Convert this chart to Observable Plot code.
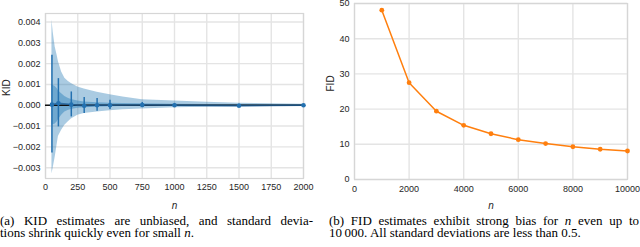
<!DOCTYPE html>
<html>
<head>
<meta charset="utf-8">
<script src="https://cdn.jsdelivr.net/npm/d3@7"></script>
<script src="https://cdn.jsdelivr.net/npm/@observablehq/plot@0.6"></script>
<style>
  html, body { margin: 0; padding: 0; background: #fff; }
  #wrap { position: relative; width: 640px; height: 247px; overflow: hidden; }
  #plots { display: flex; flex-direction: row; }
  #plots > div { width: 320px; height: 212px; }
  .cap { position: absolute; font-family: "Liberation Serif", "Times New Roman", serif; font-size: 13px; line-height: 12px; color: #000; }
  .cap div { white-space: nowrap; height: 12px; }
  .cap .j { text-align: justify; text-align-last: justify; white-space: normal; }
  .cap i { font-style: italic; }
</style>
</head>
<body>
<div id="wrap">
  <div id="plots"><div id="left"></div><div id="right"></div></div>
  <div class="cap" style="left:0px; top:215px; width:313px;">
    <div class="j">(a) KID estimates are unbiased, and standard devia-</div>
    <div>tions shrink quickly even for small <i>n</i>.</div>
  </div>
  <div class="cap" style="left:329px; top:215px; width:310px;">
    <div class="j">(b) FID estimates exhibit strong bias for <i>n</i> even up to</div>
    <div>10&#8201;000. All standard deviations are less than 0.5.</div>
  </div>
</div>
<script>
// ---- KID (left panel) ----
const kidN    = [50, 100, 200, 300, 400, 500, 750, 1000, 1500, 2000];
const kidMean = [0.00003, 0.0001, 0.00003, -0.00002, 0.0, 0.0, 0.00001, 0.0, -0.00002, 0.0];
const kidLo   = [-0.00229, -0.00104, -0.00056, -0.0004, -0.00029, -0.0002, -0.00011, -0.00008, -0.00005, -0.00004];
const kidHi   = [0.0024, 0.00128, 0.00064, 0.00037, 0.00032, 0.00024, 0.00013, 0.00009, 0.00005, 0.00004];

const bandN   = [50, 60, 75, 90, 100, 125, 150, 175, 200, 250, 300, 400, 500, 600, 750, 1000, 1250, 1500, 1750, 2000];
const outerHi = [0.0041, 0.0035, 0.0028, 0.0024, 0.0021, 0.0016, 0.0013, 0.00115, 0.00105, 0.00088, 0.00078, 0.00062, 0.0005, 0.0004, 0.00027, 0.0002, 0.00015, 0.0001, 0.00007, 0.00005];
const outerLo = [-0.0033, -0.003, -0.0025, -0.0019, -0.0015, -0.0012, -0.00096, -0.0008, -0.00066, -0.00048, -0.0004, -0.00032, -0.00026, -0.00022, -0.00018, -0.00012, -0.0001, -0.00008, -0.00006, -0.00005];
const innerHi = [0.001, 0.00095, 0.0009, 0.0008, 0.0007, 0.00055, 0.00042, 0.00034, 0.00028, 0.0002, 0.00016, 0.00012, 0.0001, 0.00008, 0.00007, 0.00005, 0.00004, 0.00004, 0.00003, 0.00003];
const innerLo = [-0.00096, -0.00094, -0.0009, -0.0008, -0.0007, -0.00048, -0.00032, -0.00025, -0.0002, -0.00014, -0.00012, -0.00009, -0.00007, -0.00006, -0.00005, -0.00004, -0.00004, -0.00003, -0.00003, -0.00003];

const kidXTicks = [0, 250, 500, 750, 1000, 1250, 1500, 1750, 2000];
const kidYTicks = [-0.003, -0.002, -0.001, 0, 0.001, 0.002, 0.003, 0.004];

// ---- FID (right panel) ----
const fidN   = [1000, 2000, 3000, 4000, 5000, 6000, 7000, 8000, 9000, 10000];
const fidVal = [48.1, 27.5, 19.4, 15.4, 13.0, 11.3, 10.2, 9.3, 8.6, 8.1];
const fidXTicks = [0, 2000, 4000, 6000, 8000, 10000];
const fidYTicks = [0, 10, 20, 30, 40, 50];

const kid = kidN.map((n, i) => ({n, mean: kidMean[i], lo: kidLo[i], hi: kidHi[i]}));
const band = bandN.map((n, i) => ({n, oHi: outerHi[i], oLo: outerLo[i], iHi: innerHi[i], iLo: innerLo[i]}));
const fid = fidN.map((n, i) => ({n, v: fidVal[i]}));

const gridColor = "#e4e4e4";
const textColor = "#262626";
const baseStyle = {fontFamily: "'Liberation Sans', Arial, sans-serif", fontSize: "9px", color: textColor, background: "white", overflow: "visible"};
const blue = "#1f77b4";
const plain = d => String(d);

const left = Plot.plot({
  width: 320, height: 212,
  marginLeft: 45, marginRight: 17, marginTop: 13, marginBottom: 34,
  style: baseStyle,
  x: {domain: [0, 2000]},
  y: {domain: [-0.00352, 0.00441]},
  marks: [
    Plot.gridX(kidXTicks, {stroke: gridColor, strokeOpacity: 1, strokeWidth: 1.4}),
    Plot.gridY(kidYTicks, {stroke: gridColor, strokeOpacity: 1, strokeWidth: 1.4}),
    Plot.frame({stroke: "#d6d6d6", strokeWidth: 1.2}),
    Plot.axisX(kidXTicks, {tickSize: 0, tickPadding: 5, label: null, tickFormat: plain, fill: textColor}),
    Plot.axisY(kidYTicks, {tickSize: 0, tickPadding: 5, label: null, tickFormat: d3.format(".3f"), fill: textColor}),
    Plot.areaY(band, {x: "n", y1: "oLo", y2: "oHi", fill: blue, fillOpacity: 0.38}),
    Plot.areaY(band, {x: "n", y1: "iLo", y2: "iHi", fill: blue, fillOpacity: 0.42}),
    Plot.ruleY([0], {stroke: "#111", strokeWidth: 1.6}),
    Plot.line(kid, {x: "n", y: "mean", stroke: "#1f5f99", strokeWidth: 1.6, strokeOpacity: 0.8}),
    Plot.ruleX(kid, {x: "n", y1: "lo", y2: "hi", stroke: "#2471b0", strokeWidth: 1.5}),
    Plot.dot(kid, {x: "n", y: "mean", r: 2.3, fill: "#2471b0"}),
    Plot.text(["KID"], {frameAnchor: "left", dx: -39, rotate: -90, fill: textColor, fontSize: 10}),
    Plot.text(["n"], {frameAnchor: "bottom", dy: 27, lineAnchor: "middle", fontStyle: "italic", fill: textColor, fontSize: 10})
  ]
});

const right = Plot.plot({
  width: 320, height: 212,
  marginLeft: 34, marginRight: 13, marginTop: 3, marginBottom: 33,
  style: baseStyle,
  x: {domain: [0, 10000]},
  y: {domain: [0, 50]},
  marks: [
    Plot.gridX(fidXTicks, {stroke: gridColor, strokeOpacity: 1, strokeWidth: 1.4}),
    Plot.gridY(fidYTicks, {stroke: gridColor, strokeOpacity: 1, strokeWidth: 1.4}),
    Plot.frame({stroke: "#d6d6d6", strokeWidth: 1.2}),
    Plot.axisX(fidXTicks, {tickSize: 0, tickPadding: 6, label: null, tickFormat: plain, fill: textColor}),
    Plot.axisY(fidYTicks, {tickSize: 0, tickPadding: 5, label: null, fill: textColor}),
    Plot.line(fid, {x: "n", y: "v", stroke: "#ff7f0e", strokeWidth: 1.5}),
    Plot.dot(fid, {x: "n", y: "v", r: 2.4, fill: "#ff7f0e"}),
    Plot.text(["FID"], {frameAnchor: "left", dx: -24, rotate: -90, fill: textColor, fontSize: 10}),
    Plot.text(["n"], {frameAnchor: "bottom", dy: 26, lineAnchor: "middle", fontStyle: "italic", fill: textColor, fontSize: 10})
  ]
});

document.getElementById("left").appendChild(left);
document.getElementById("right").appendChild(right);
</script>
</body>
</html>
